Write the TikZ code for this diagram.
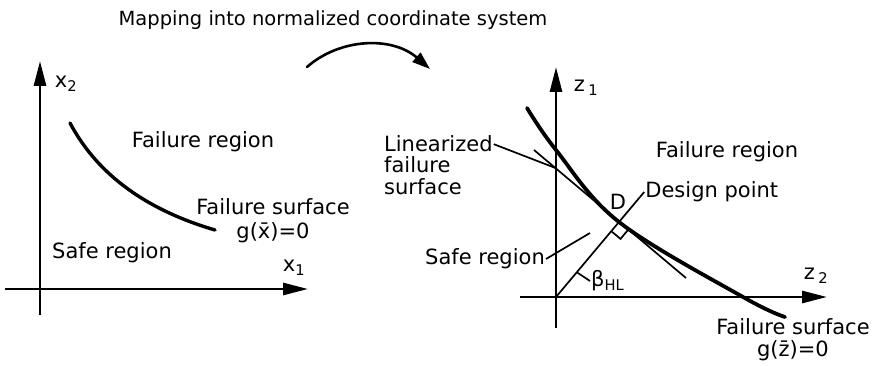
\documentclass[tikz,border=0pt]{standalone}
\usepackage{fontspec}
\setmainfont{DejaVu Sans}
\usetikzlibrary{arrows.meta, positioning, calc}

\begin{document}
\begin{tikzpicture}[
    x=1pt, y=-1pt,
    lbl/.style={font=\fontsize{21}{24}\selectfont, inner sep=1pt},
    axis/.style={line width=2.8pt, -{Triangle[length=25pt,width=12pt]}},
    surf/.style={line width=3.4pt, line cap=round},
    thinline/.style={line width=1.7pt},
    maparrow/.style={line width=2.6pt, line cap=round, -{Triangle[length=18pt,width=12pt]}}
]
\useasboundingbox (0,0) rectangle (886,366);

% Title and mapping arrow
\node[lbl, font=\fontsize{19.5}{22}\selectfont] (title) at (333,20) {Mapping into normalized coordinate system};
\coordinate (map1) at (307,67);
\coordinate (map2) at (430,69);
\draw[maparrow] (map1) .. controls (340,38) and (392,36) .. (map2);

% Left: original space
\coordinate (x1start) at (5,289);
\coordinate (x1end) at (308,289);
\coordinate (x2start) at (40,315);
\coordinate (x2end) at (40,61);
\draw[axis] (x1start) -- (x1end);
\draw[axis] (x2start) -- (x2end);
\node[lbl] (x2lbl) at (66,84) {x\textsubscript{2}};
\node[lbl] (x1lbl) at (294,268) {x\textsubscript{1}};

\coordinate (gx1) at (70,123);
\coordinate (gx2) at (215,230);
\draw[surf] (gx1) .. controls (95,170) and (140,208) .. (gx2);

\node[lbl] (failreg1) at (203,142) {Failure region};
\node[lbl, align=center] (failsurf1) at (273,221) {Failure surface\\g(\=x)=0};
\node[lbl] (safereg1) at (112,253) {Safe region};

% Right: normalized space
\coordinate (O2) at (556,297);
\coordinate (z2start) at (520,297);
\coordinate (z2end) at (827,297);
\coordinate (z1start) at (556,328);
\coordinate (z1end) at (556,67);
\draw[axis] (z2start) -- (z2end);
\draw[axis] (z1start) -- (z1end);
\node[lbl] (z1lbl) at (586,88) {z\,\textsubscript{1}};
\node[lbl] (z2lbl) at (816,276) {z\,\textsubscript{2}};

% Failure surface and design point
\coordinate (D) at (619,222);
\coordinate (gz1) at (527,108);
\coordinate (gz2) at (785,317);
\draw[surf, line width=3.8pt] plot[smooth, tension=0.6] coordinates {(gz1) (556,150) (D) (743,297) (gz2)};

% Linearized surface (tangent at D)
\coordinate (lin1) at (534,150);
\coordinate (lin2) at (686,278);
\draw[thinline] (lin1) -- (lin2);

% Reliability index line
\coordinate (dpend) at ($(O2)!1.4!(D)$);
\draw[thinline] (O2) -- (dpend);

% Right angle mark
\coordinate (ra1) at ($(D)!12pt!(lin2)$);
\coordinate (ra2) at ($(D)!12pt!(O2)$);
\draw[thinline] (ra1) -- ($(ra1)+(ra2)-(D)$) -- (ra2);

\node[lbl] (Dlbl) at (618,202) {D};
\node[lbl, anchor=west] (dplbl) at (dpend) {Design point};
\node[lbl] (failreg2) at (727,152) {Failure region};

% Labels with leaders
\node[lbl, anchor=base west] (linA) at (383,152) {Linearized};
\node[lbl, anchor=base west] (linB) at (383,173) {failure};
\node[lbl, anchor=base west] (linC) at (383,195) {surface};
\draw[thinline] (linA.east) -- ($(lin1)!0.14!(lin2)$);

\node[lbl, anchor=east] (safereg2) at (546,259) {Safe region};
\coordinate (safept) at (590,233);
\draw[thinline] (safereg2.east) -- (safept);

\node[lbl, anchor=west] (beta) at (590,281) {β\textsubscript{HL}};
\draw[thinline] ($(O2)!0.33!(D)$) -- (beta.west);

\node[lbl, align=center, font=\fontsize{21}{22}\selectfont] (failsurf2) at (793,340) {Failure surface\\g(\=z)=0};
\end{tikzpicture}
\end{document}
